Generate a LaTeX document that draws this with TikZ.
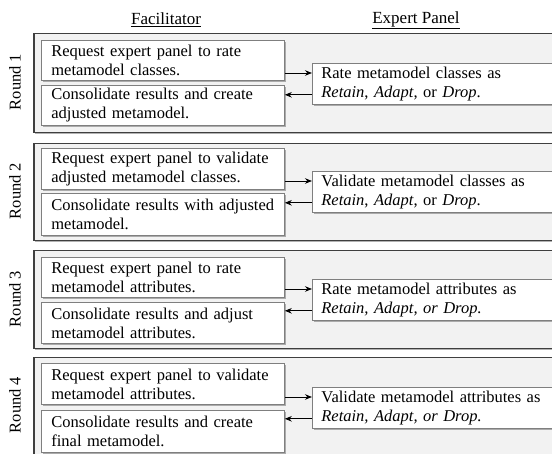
\documentclass[tikz,border=0pt]{standalone}
\usepackage{fontspec}
\setmainfont{Liberation Serif}
\usetikzlibrary{shadows,arrows.meta}

\definecolor{roundfill}{HTML}{F2F2F2}
\definecolor{roundline}{HTML}{3F3F3F}
\definecolor{boxline}{HTML}{7F7F7F}

\tikzset{
  txt/.style={font=\fontsize{16.5}{19}\selectfont},
  roundbox/.style={draw=roundline, fill=roundfill, line width=1.5pt, inner sep=0pt,
    anchor=north west, minimum width=560pt,
    drop shadow={shadow xshift=1.5pt, shadow yshift=-1.5pt, opacity=0.5, fill=black!60}},
  taskbox/.style={txt, draw=boxline, fill=white, line width=0.8pt, anchor=north west,
    minimum width=243pt, text width=223pt, inner xsep=10pt, inner ysep=0pt, align=left,
    execute at begin node={\hyphenpenalty=10000},
    drop shadow={shadow xshift=1.8pt, shadow yshift=-1.8pt, opacity=0.5, fill=black!60}},
  panelbox/.style={taskbox, minimum width=260pt, text width=242pt, inner xsep=9pt},
  roundlabel/.style={txt, rotate=90},
  header/.style={font=\fontsize{17}{20}\selectfont},
  flow/.style={-{Stealth[length=7pt,width=5.5pt]}, line width=0.9pt, black}
}

\begin{document}
\begin{tikzpicture}[x=1pt, y=-1pt]
\useasboundingbox (0,0) rectangle (552,454);
\clip (0,0) rectangle (552,454);

% column headings
\node[header] (hfac) at (166,20) {\underline{Facilitator}};
\node[header] (hexp) at (416,20) {\underline{Expert Panel}};

% round frames
\node[roundbox, minimum height=99pt] (r1) at (33,33) {};
\node[roundbox, minimum height=97pt] (r2) at (33,143) {};
\node[roundbox, minimum height=98pt] (r3) at (33,250) {};
\node[roundbox, minimum height=110pt] (r4) at (33,357) {};

\node[roundlabel] (l1) at (15,82) {Round 1};
\node[roundlabel] (l2) at (15,191) {Round 2};
\node[roundlabel] (l3) at (15,299) {Round 3};
\node[roundlabel] (l4) at (15,405) {Round 4};

% round 1
\node[taskbox, minimum height=40pt] (q1) at (41,40) {Request expert panel to rate\\metamodel classes.};
\node[taskbox, minimum height=40pt] (c1) at (41,85) {Consolidate results and create\\adjusted metamodel.};
\node[panelbox, minimum height=41pt] (p1) at (312,63) {Rate metamodel classes as\\\textit{Retain}, \textit{Adapt}, or \textit{Drop}.};

% round 2
\node[taskbox, minimum height=41pt] (q2) at (41,148) {Request expert panel to validate\\adjusted metamodel classes.};
\node[taskbox, minimum height=42pt] (c2) at (41,193) {\mbox{Consolidate results with adjusted}\\metamodel.};
\node[panelbox, minimum height=41pt] (p2) at (312,171) {Validate metamodel classes as\\\textit{Retain}, \textit{Adapt}, or \textit{Drop}.};

% round 3
\node[taskbox, minimum height=40pt] (q3) at (41,257) {Request expert panel to rate\\metamodel attributes.};
\node[taskbox, minimum height=41pt] (c3) at (41,302) {Consolidate results and adjust\\metamodel attributes.};
\node[panelbox, minimum height=41pt] (p3) at (312,279) {Rate metamodel attributes as\\\textit{Retain, Adapt, or Drop.}};

% round 4
\node[taskbox, minimum height=41pt] (q4) at (41,363) {Request expert panel to validate\\metamodel attributes.};
\node[taskbox, minimum height=42pt] (c4) at (41,410) {Consolidate results and create\\final metamodel.};
\node[panelbox, minimum height=41pt] (p4) at (312,387) {Validate metamodel attributes as\\\textit{Retain, Adapt, or Drop.}};

% requests go out, results come back
\foreach \i in {1,2,3,4}{
  \coordinate (out\i) at ([yshift=-10pt]p\i.north west);
  \coordinate (in\i) at ([yshift=10pt]p\i.south west);
  \draw[flow] (q\i.east |- out\i) -- (out\i);
  \draw[flow] (in\i) -- (c\i.east |- in\i);
}
\end{tikzpicture}
\end{document}
